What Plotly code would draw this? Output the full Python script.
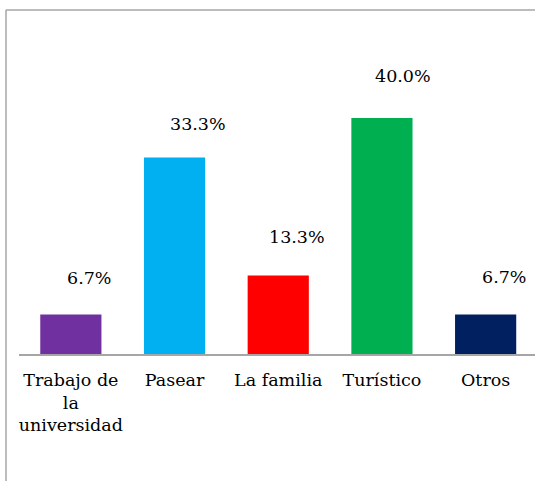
import plotly.graph_objects as go

categories = ["Trabajo de<br>la<br>universidad", "Pasear", "La familia", "Turístico", "Otros"]
values = [6.7, 33.3, 13.3, 40.0, 6.7]
labels = ["6.7%", "33.3%", "13.3%", "40.0%", "6.7%"]
colors = ["#7030A0", "#00B0F0", "#FF0000", "#00B050", "#002060"]

# label placement offsets (pixels) for the value labels
label_dx = [18.5, 23.5, 19, 21.5, 18]
label_dy = [36, 34, 39, 42, 37.5]

FONT = "DejaVu Serif, serif"
FS = 17.5
W, H = 535, 481
L, R, T, B = 19, 0, 59, 127

fig = go.Figure()
fig.add_trace(go.Bar(x=list(range(len(categories))), y=values, marker_color=colors,
                     marker_line_width=0, width=0.59, hoverinfo="skip"))

for i, (v, t) in enumerate(zip(values, labels)):
    fig.add_annotation(x=i, y=v, text=t, showarrow=False, xshift=label_dx[i], yshift=label_dy[i],
                       font=dict(family=FONT, size=FS, color="black"))

pw = W - L - R
ph = H - T - B
def px_x(p):
    return (p - L) / pw
def px_y(p):
    return (H - B - p) / ph

line = dict(color="#a6a6a6", width=1.5)
fig.add_shape(type="line", xref="paper", yref="paper", x0=px_x(6), x1=px_x(6), y0=px_y(10), y1=px_y(490), line=line)
fig.add_shape(type="line", xref="paper", yref="paper", x0=px_x(6), x1=px_x(545), y0=px_y(10), y1=px_y(10), line=line)

fig.update_layout(
    width=W, height=H, autosize=False,
    margin=dict(l=L, r=R, t=T, b=B, pad=0),
    paper_bgcolor="white", plot_bgcolor="white",
    showlegend=False,
    font=dict(family=FONT, size=FS, color="black"),
    xaxis=dict(range=[-0.5, 4.476], tickmode="array", tickvals=list(range(len(categories))),
               ticktext=categories, showgrid=False, zeroline=False, showline=True,
               linecolor="#a6a6a6", linewidth=1.5, ticks="", ticklabelstandoff=9,
               tickfont=dict(family=FONT, size=FS, color="black")),
    yaxis=dict(range=[0, 50], visible=False, showgrid=False, zeroline=False),
)

fig.write_html("out.html", config={"displayModeBar": False},
               post_script="document.body.style.margin='0';document.body.style.padding='0';")
